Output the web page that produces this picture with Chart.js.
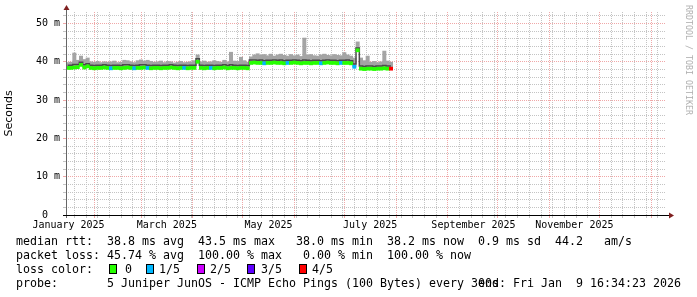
<!DOCTYPE html>
<html>
<head>
<meta charset="utf-8">
<script src="https://cdn.jsdelivr.net/npm/chart.js@4.4.1/dist/chart.umd.min.js"></script>
<style>
  html, body { margin: 0; padding: 0; background: #fff; }
  #wrap { position: relative; width: 697px; height: 297px; overflow: hidden; background: #fff; }
  #wrap canvas { position: absolute; left: 0; top: 0; }
  .txt { position: absolute; font-family: "DejaVu Sans Mono", monospace; font-size: 11.63px; line-height: 14px; white-space: pre; color: #000; }
  .box { position: absolute; top: 264px; width: 6px; height: 8px; border: 1px solid #000; }
  #wm { position: absolute; left: 694px; top: 5px; transform-origin: 0 0; transform: rotate(90deg);
        font-family: "DejaVu Sans Mono", monospace; font-size: 8.3px; line-height: 10px; color: #b0b0b0; white-space: pre; }
</style>
</head>
<body>
<div id="wrap">
  <canvas id="myChart" width="697" height="297"></canvas>
  <div class="txt" style="left:16px; top:234px;">median rtt:  38.8 ms avg  43.5 ms max   38.0 ms min  38.2 ms now  0.9 ms sd  44.2   am/s</div>
  <div class="txt" style="left:16px; top:248px;">packet loss: 45.74 % avg  100.00 % max   0.00 % min  100.00 % now</div>
  <div class="txt" style="left:16px; top:262px;">loss color:</div>
  <div class="txt" style="left:16px; top:276px;">probe:       5 Juniper JunOS - ICMP Echo Pings (100 Bytes) every 300s</div>
  <div class="txt" style="right:16px; top:276px;">end: Fri Jan  9 16:34:23 2026</div>
  <div id="wm">RRDTOOL / TOBI OETIKER</div>
</div>
<script>
// 2-day buckets starting at the left edge of the graph
const firstBucket = '2025-01-15T00:00:00Z';
const bucketDays = 2;

// median rtt per bucket (ms)
const medianRtt = [
  38.4, 38.4, 38.5, 38.6, 39.2, 38.5, 38.8, 38.4, 38.3, 38.4,
  38.4, 38.5, 38.4, 38.3, 38.4, 38.4, 38.3, 38.4, 38.5, 38.4,
  38.3, 38.4, 38.4, 38.5, 38.4, 38.3, 38.4, 38.4, 38.3, 38.4,
  38.4, 38.5, 38.4, 38.3, 38.4, 38.4, 38.3, 38.4, 38.4, 40.0,
  38.4, 38.3, 38.4, 38.4, 38.3, 38.4, 38.4, 38.5, 38.3, 38.4,
  38.4, 38.3, 38.4, 38.4, 38.3, 39.7, 39.8, 39.7, 39.7, 39.6,
  39.7, 39.7, 39.8, 39.7, 39.7, 39.6, 39.7, 39.7, 39.8, 39.7,
  39.6, 39.7, 39.7, 39.6, 39.7, 39.7, 39.6, 39.7, 39.8, 39.7,
  39.7, 39.6, 39.7, 39.7, 39.7, 39.6, 38.7, 43.0, 38.2, 38.1,
  38.2, 38.2, 38.1, 38.2, 38.2, 38.3, 38.2, 38.2
];
// dense part of the smoke (ms)
const smokeUpper = [
  39.1, 39.1, 39.3, 39.3, 39.9, 39.2, 39.5, 39.1, 39.0, 39.1,
  39.1, 39.2, 39.1, 39.0, 39.1, 39.1, 39.0, 39.2, 39.2, 39.1,
  39.0, 39.1, 39.2, 39.2, 39.1, 39.0, 39.1, 39.1, 39.0, 39.1,
  39.1, 39.2, 39.1, 39.0, 39.1, 39.1, 39.0, 39.1, 39.1, 40.8,
  39.1, 39.0, 39.1, 39.1, 39.0, 39.1, 39.1, 39.2, 39.0, 39.2,
  39.1, 39.0, 39.1, 39.1, 39.0, 40.5, 40.5, 40.4, 40.5, 40.3,
  40.4, 40.4, 40.5, 40.4, 40.5, 40.3, 40.4, 40.4, 40.5, 40.4,
  40.3, 40.5, 40.4, 40.3, 40.4, 40.4, 40.3, 40.4, 40.5, 40.4,
  40.4, 40.3, 40.4, 40.4, 40.5, 40.3, 39.4, 43.6, 38.9, 38.8,
  38.9, 38.9, 38.8, 38.9, 38.9, 39.0, 38.9, 38.9
];
// slowest ping per bucket (ms)
const smokeMax = [
  39.8, 39.9, 42.3, 40.4, 41.5, 40.6, 41.0, 40.0, 39.9, 40.1,
  39.8, 40.0, 39.9, 40.0, 40.2, 39.8, 39.9, 40.4, 40.3, 40.0,
  39.8, 40.3, 40.5, 40.2, 40.4, 40.1, 39.9, 40.0, 40.2, 39.8,
  40.1, 40.0, 39.7, 39.9, 40.1, 39.8, 39.9, 40.0, 40.3, 41.8,
  40.0, 40.2, 39.9, 40.0, 40.3, 40.1, 39.9, 40.4, 40.0, 42.5,
  40.2, 40.1, 41.2, 40.3, 39.9, 41.3, 41.8, 42.1, 41.7, 41.9,
  41.6, 42.0, 41.5, 41.8, 42.0, 41.7, 41.5, 41.9, 41.6, 41.8,
  41.4, 46.2, 41.7, 41.9, 41.6, 41.5, 41.8, 42.0, 41.7, 41.6,
  41.9, 41.7, 41.6, 42.4, 41.8, 41.5, 41.0, 45.2, 41.0, 40.3,
  41.5, 39.9, 40.1, 39.8, 40.0, 42.8, 40.2, 39.9
];
// lost pings out of 5
const lossCount = [
  0, 0, 0, 0, 0, 0, 0, 0, 0, 0,
  0, 0, 0, 1, 0, 0, 0, 0, 0, 0,
  1, 0, 0, 0, 1, 0, 0, 0, 0, 0,
  0, 0, 0, 0, 0, 1, 0, 0, 0, 0,
  0, 0, 0, 1, 0, 0, 0, 0, 0, 0,
  0, 0, 0, 0, 0, 0, 0, 0, 0, 1,
  0, 0, 0, 0, 0, 0, 1, 0, 0, 0,
  0, 0, 0, 0, 0, 0, 1, 0, 0, 0,
  0, 0, 1, 0, 0, 0, 1, 0, 0, 0,
  0, 0, 0, 0, 0, 0, 0, 4
];
const lossColors = ['#26ff00', '#00b8ff', '#cc00ff', '#5e00ff', '#ff0000'];
const lossLabels = ['0', '1/5', '2/5', '3/5', '4/5'];

const xLabels = ['January 2025', 'March 2025', 'May 2025', 'July 2025', 'September 2025', 'November 2025'];
const xLabelDates = ['2025-01-16T12:00:00Z', '2025-03-16T12:00:00Z', '2025-05-16T12:00:00Z',
                     '2025-07-16T12:00:00Z', '2025-09-16T12:00:00Z', '2025-11-16T00:00:00Z'];
const viewFrom = '2025-01-15T00:00:00Z';
const viewTo = '2026-01-10T00:00:00Z';
const firstMonday = '2025-01-20T00:00:00Z';

const yMax = 53;
const yMinorStep = 2;
const yMajorStep = 10;

const GRID = '#c4c4c4';
const MGRID = '#f0a8a8';

const epoch = Date.UTC(2025, 0, 1);
const toDay = s => (Date.parse(s) - epoch) / 864e5;
const xs = medianRtt.map((_, i) => toDay(firstBucket) + bucketDays * i + bucketDays / 2);

// legend for the loss colours
const legendSlots = [[109, 125], [146, 159], [197, 210], [247, 261], [299, 312]];
const wrap = document.getElementById('wrap');
lossLabels.forEach((lab, i) => {
  const b = document.createElement('span');
  b.className = 'box';
  b.style.left = legendSlots[i][0] + 'px';
  b.style.background = lossColors[i];
  wrap.appendChild(b);
  const t = document.createElement('div');
  t.className = 'txt';
  t.style.left = legendSlots[i][1] + 'px';
  t.style.top = '262px';
  t.textContent = lab;
  wrap.appendChild(t);
});

const axesArrows = {
  id: 'axesArrows',
  afterDatasetsDraw(chart) {
    const { ctx, chartArea: a } = chart;
    ctx.save();
    ctx.lineWidth = 1;
    ctx.strokeStyle = '#666';
    ctx.beginPath();
    ctx.moveTo(a.left + 0.5, a.bottom + 3);
    ctx.lineTo(a.left + 0.5, a.top - 3);
    ctx.stroke();
    ctx.strokeStyle = '#000';
    ctx.beginPath();
    ctx.moveTo(a.left - 3, a.bottom + 0.5);
    ctx.lineTo(a.right + 3, a.bottom + 0.5);
    ctx.stroke();
    ctx.fillStyle = '#7f1f1f';
    ctx.beginPath();
    ctx.moveTo(a.left + 0.5, a.top - 7);
    ctx.lineTo(a.left - 2.5, a.top - 2);
    ctx.lineTo(a.left + 3.5, a.top - 2);
    ctx.fill();
    ctx.beginPath();
    ctx.moveTo(a.right + 8, a.bottom + 0.5);
    ctx.lineTo(a.right + 3, a.bottom - 2.5);
    ctx.lineTo(a.right + 3, a.bottom + 3.5);
    ctx.fill();
    ctx.restore();
  }
};

const ctx = document.getElementById('myChart').getContext('2d');
const myChart = new Chart(ctx, {
  type: 'bar',
  data: {
    datasets: [{
      label: 'loss',
      data: medianRtt.map((m, i) => ({ x: xs[i], y: [m - 0.4, m + 0.4] })),
      backgroundColor: lossCount.map(n => lossColors[n]),
      borderWidth: 0,
      grouped: false,
      barPercentage: 1,
      categoryPercentage: 1,
      order: 1
    }, {
      type: 'line',
      label: 'smoke dense',
      data: smokeUpper.map((v, i) => ({ x: xs[i], y: v })),
      borderColor: '#4a4a4a',
      borderWidth: 1.5,
      stepped: 'middle',
      pointRadius: 0,
      order: 2
    }, {
      label: 'smoke',
      data: smokeMax.map((v, i) => ({ x: xs[i], y: [medianRtt[i], v] })),
      backgroundColor: '#a4a4a4',
      borderWidth: 0,
      grouped: false,
      barPercentage: 1,
      categoryPercentage: 1,
      order: 3
    }]
  },
  options: {
    responsive: false,
    animation: false,
    devicePixelRatio: 1,
    layout: { padding: { left: 0, top: 12, right: 31, bottom: 0 } },
    plugins: { legend: { display: false }, tooltip: { enabled: false } },
    scales: {
      // month labels (the data axis)
      x: {
        type: 'linear',
        position: 'bottom',
        weight: 1,
        offset: false,
        min: toDay(viewFrom),
        max: toDay(viewTo),
        afterBuildTicks: function(scale) {
          scale.ticks = xLabelDates.map((s, i) => ({ value: toDay(s), text: xLabels[i] }));
        },
        afterFit: function(scale) { scale.height = 79; },
        grid: { display: false, drawTicks: false, tickLength: 0, offset: false },
        border: { display: false },
        ticks: {
          autoSkip: false,
          maxRotation: 0,
          padding: 1,
          color: '#000',
          font: { family: 'DejaVu Sans Mono', size: 10 },
          callback: function(value, index, ticks) { return ticks[index].text; }
        }
      },
      // week / month grid
      xg: {
        type: 'linear',
        position: 'bottom',
        weight: 0,
        offset: false,
        min: toDay(viewFrom),
        max: toDay(viewTo),
        afterBuildTicks: function(scale) {
          const t = [];
          for (let d = toDay(firstMonday); d <= scale.max; d += 7) t.push({ value: d, kind: 'week' });
          for (let m = 1; m <= 12; m++) t.push({ value: (Date.UTC(2025, m, 1) - epoch) / 864e5, kind: 'month' });
          t.sort((a, b) => a.value - b.value);
          scale.ticks = t;
        },
        afterFit: function(scale) { scale.height = 3; },
        grid: {
          offset: false,
          color: c => c.tick && c.tick.kind === 'month' ? MGRID : GRID,
          tickColor: c => c.tick && c.tick.kind === 'month' ? MGRID : GRID,
          tickLength: 3
        },
        border: { display: false, dash: [1, 1] },
        ticks: { display: false, autoSkip: false }
      },
      y: {
        min: 0,
        max: yMax,
        afterBuildTicks: function(scale) {
          const t = [];
          for (let v = 0; v < yMax; v += yMinorStep) t.push({ value: v });
          scale.ticks = t;
        },
        afterFit: function(scale) { scale.width = 66; },
        grid: {
          color: c => c.tick && c.tick.value % yMajorStep === 0 ? MGRID : GRID,
          tickColor: c => c.tick && c.tick.value % yMajorStep === 0 ? MGRID : GRID,
          tickLength: 3
        },
        border: { display: false, dash: [1, 1] },
        title: {
          display: true,
          text: 'Seconds',
          color: '#000',
          font: { family: 'DejaVu Sans', size: 11 },
          padding: { top: 3, bottom: 0 }
        },
        ticks: {
          autoSkip: false,
          padding: 3,
          color: '#000',
          font: { family: 'DejaVu Sans Mono', size: 10 },
          callback: function(value) {
            if (value % yMajorStep !== 0) return '';
            return value === 0 ? '0  ' : value + ' m';
          }
        }
      }
    }
  },
  plugins: [axesArrows]
});
</script>
</body>
</html>
